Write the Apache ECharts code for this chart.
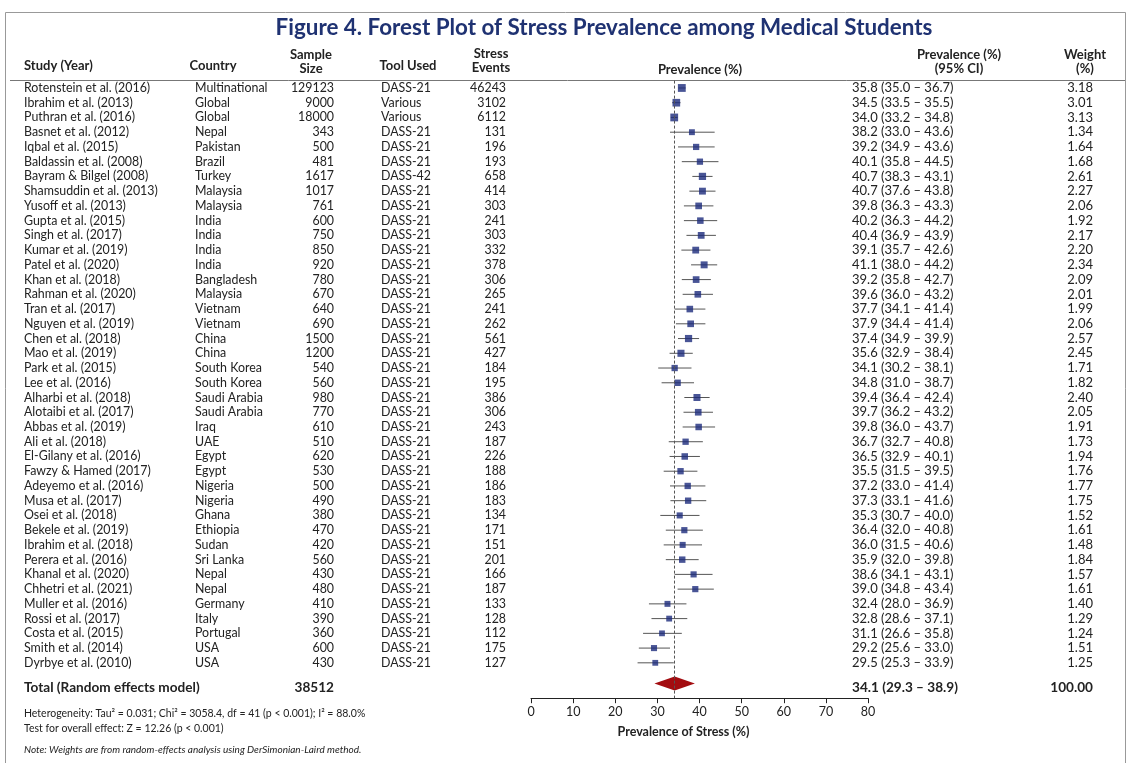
<!DOCTYPE html>
<html>
<head>
<meta charset="utf-8">
<script src="https://cdn.jsdelivr.net/npm/echarts@6/dist/echarts.min.js"></script>
<style>
  html, body { margin: 0; padding: 0; background: #fff; }
  #chart { width: 1130px; height: 763px; }
</style>
</head>
<body>
<div id="chart"></div>
<script>
// Study-level data for the forest plot
const studies = [
  'Rotenstein et al. (2016)', 'Ibrahim et al. (2013)', 'Puthran et al. (2016)', 'Basnet et al. (2012)',
  'Iqbal et al. (2015)', 'Baldassin et al. (2008)', 'Bayram & Bilgel (2008)', 'Shamsuddin et al. (2013)',
  'Yusoff et al. (2013)', 'Gupta et al. (2015)', 'Singh et al. (2017)', 'Kumar et al. (2019)',
  'Patel et al. (2020)', 'Khan et al. (2018)', 'Rahman et al. (2020)', 'Tran et al. (2017)',
  'Nguyen et al. (2019)', 'Chen et al. (2018)', 'Mao et al. (2019)', 'Park et al. (2015)',
  'Lee et al. (2016)', 'Alharbi et al. (2018)', 'Alotaibi et al. (2017)', 'Abbas et al. (2019)',
  'Ali et al. (2018)', 'El-Gilany et al. (2016)', 'Fawzy & Hamed (2017)', 'Adeyemo et al. (2016)',
  'Musa et al. (2017)', 'Osei et al. (2018)', 'Bekele et al. (2019)', 'Ibrahim et al. (2018)',
  'Perera et al. (2016)', 'Khanal et al. (2020)', 'Chhetri et al. (2021)', 'Muller et al. (2016)',
  'Rossi et al. (2017)', 'Costa et al. (2015)', 'Smith et al. (2014)', 'Dyrbye et al. (2010)'
];
const countries = [
  'Multinational', 'Global', 'Global', 'Nepal', 'Pakistan', 'Brazil', 'Turkey', 'Malaysia',
  'Malaysia', 'India', 'India', 'India', 'India', 'Bangladesh', 'Malaysia', 'Vietnam',
  'Vietnam', 'China', 'China', 'South Korea', 'South Korea', 'Saudi Arabia', 'Saudi Arabia', 'Iraq',
  'UAE', 'Egypt', 'Egypt', 'Nigeria', 'Nigeria', 'Ghana', 'Ethiopia', 'Sudan',
  'Sri Lanka', 'Nepal', 'Nepal', 'Germany', 'Italy', 'Portugal', 'USA', 'USA'
];
const sampleSizes = [
  129123, 9000, 18000, 343, 500, 481, 1617, 1017, 761, 600, 750, 850, 920, 780, 670, 640,
  690, 1500, 1200, 540, 560, 980, 770, 610, 510, 620, 530, 500, 490, 380, 470, 420,
  560, 430, 480, 410, 390, 360, 600, 430
];
const tools = [
  'DASS-21', 'Various', 'Various', 'DASS-21', 'DASS-21', 'DASS-21', 'DASS-42', 'DASS-21',
  'DASS-21', 'DASS-21', 'DASS-21', 'DASS-21', 'DASS-21', 'DASS-21', 'DASS-21', 'DASS-21',
  'DASS-21', 'DASS-21', 'DASS-21', 'DASS-21', 'DASS-21', 'DASS-21', 'DASS-21', 'DASS-21',
  'DASS-21', 'DASS-21', 'DASS-21', 'DASS-21', 'DASS-21', 'DASS-21', 'DASS-21', 'DASS-21',
  'DASS-21', 'DASS-21', 'DASS-21', 'DASS-21', 'DASS-21', 'DASS-21', 'DASS-21', 'DASS-21'
];
const stressEvents = [
  46243, 3102, 6112, 131, 196, 193, 658, 414, 303, 241, 303, 332, 378, 306, 265, 241,
  262, 561, 427, 184, 195, 386, 306, 243, 187, 226, 188, 186, 183, 134, 171, 151,
  201, 166, 187, 133, 128, 112, 175, 127
];
const prevalence = [
  35.8, 34.5, 34.0, 38.2, 39.2, 40.1, 40.7, 40.7, 39.8, 40.2, 40.4, 39.1, 41.1, 39.2, 39.6, 37.7,
  37.9, 37.4, 35.6, 34.1, 34.8, 39.4, 39.7, 39.8, 36.7, 36.5, 35.5, 37.2, 37.3, 35.3, 36.4, 36.0,
  35.9, 38.6, 39.0, 32.4, 32.8, 31.1, 29.2, 29.5
];
const ciLower = [
  35.0, 33.5, 33.2, 33.0, 34.9, 35.8, 38.3, 37.6, 36.3, 36.3, 36.9, 35.7, 38.0, 35.8, 36.0, 34.1,
  34.4, 34.9, 32.9, 30.2, 31.0, 36.4, 36.2, 36.0, 32.7, 32.9, 31.5, 33.0, 33.1, 30.7, 32.0, 31.5,
  32.0, 34.1, 34.8, 28.0, 28.6, 26.6, 25.6, 25.3
];
const ciUpper = [
  36.7, 35.5, 34.8, 43.6, 43.6, 44.5, 43.1, 43.8, 43.3, 44.2, 43.9, 42.6, 44.2, 42.7, 43.2, 41.4,
  41.4, 39.9, 38.4, 38.1, 38.7, 42.4, 43.2, 43.7, 40.8, 40.1, 39.5, 41.4, 41.6, 40.0, 40.8, 40.6,
  39.8, 43.1, 43.4, 36.9, 37.1, 35.8, 33.0, 33.9
];
const weights = [
  3.18, 3.01, 3.13, 1.34, 1.64, 1.68, 2.61, 2.27, 2.06, 1.92, 2.17, 2.20, 2.34, 2.09, 2.01, 1.99,
  2.06, 2.57, 2.45, 1.71, 1.82, 2.40, 2.05, 1.91, 1.73, 1.94, 1.76, 1.77, 1.75, 1.52, 1.61, 1.48,
  1.84, 1.57, 1.61, 1.40, 1.29, 1.24, 1.51, 1.25
];

// Pooled random-effects estimate
const pooledEstimate = 34.1;
const pooledLower = 29.3;
const pooledUpper = 38.9;
const totalEvents = 38512;
const totalWeight = 100.00;

const axisTicks = [0, 10, 20, 30, 40, 50, 60, 70, 80];

const FONT = 'Lato, "Open Sans", sans-serif';
const TEXT = '#222';
const NAVY = '#1f3272';
const MARKER = '#1b2b7c';
const DIAMOND = '#a30c10';

const nRows = studies.length;
const totalRowPos = nRows + 0.7;
const diamondPos = nRows + 0.4;

const fmt1 = v => v.toFixed(1);
const ciText = (e, l, h) => `${fmt1(e)} (${fmt1(l)} – ${fmt1(h)})`;

// Column anchors for the table text
const COL = {
  study: 24, country: 195, sample: 334, tool: 381, events: 506, ci: 852, weight: 1093
};

function txt(x, y, text, opts) {
  return {
    type: 'text',
    x: x, y: y,
    style: Object.assign({
      text: String(text),
      fill: TEXT,
      fontFamily: FONT,
      fontSize: 12.4,
      align: 'left',
      verticalAlign: 'middle'
    }, opts || {})
  };
}

const HEAD = { fontWeight: 'bold', fontSize: 13, align: 'center' };

const tableData = studies.map((s, i) => [i]);

const chart = echarts.init(document.getElementById('chart'));

chart.setOption({
  animation: false,
  backgroundColor: '#fff',
  grid: { left: 531, width: 337, top: 80.6, height: 617.6 },
  xAxis: {
    type: 'value',
    min: axisTicks[0],
    max: axisTicks[axisTicks.length - 1],
    interval: 10,
    axisLine: { show: true, onZero: false, lineStyle: { color: '#222', width: 1 } },
    axisTick: { show: true, length: 5, lineStyle: { color: '#222' } },
    axisLabel: { color: TEXT, fontFamily: FONT, fontSize: 12.5, margin: 7 },
    splitLine: { show: false },
    name: 'Prevalence of Stress (%)',
    nameLocation: 'middle',
    nameGap: 27,
    nameTextStyle: { color: TEXT, fontFamily: FONT, fontSize: 12.5, fontWeight: 'bold', padding: [0, 32, 0, 0] }
  },
  yAxis: {
    type: 'value',
    inverse: true,
    min: -0.5,
    max: nRows + 1.4,
    show: false
  },
  graphic: [
    { type: 'rect', shape: { x: 5.5, y: 12.5, width: 1120, height: 780 }, style: { fill: 'none', stroke: '#999', lineWidth: 1 }, silent: true },
    txt(604, 28, 'Figure 4. Forest Plot of Stress Prevalence among Medical Students',
      { fontSize: 22.4, fontWeight: 'bold', fill: NAVY, align: 'center' }),
    txt(24, 66, 'Study (Year)', Object.assign({}, HEAD, { align: 'left' })),
    txt(213, 66, 'Country', HEAD),
    txt(311, 55, 'Sample', HEAD),
    txt(311, 69, 'Size', HEAD),
    txt(408, 66, 'Tool Used', HEAD),
    txt(491, 54, 'Stress', HEAD),
    txt(491, 68, 'Events', HEAD),
    txt(700, 70, 'Prevalence (%)', HEAD),
    txt(959, 55, 'Prevalence (%)', HEAD),
    txt(959, 69, '(95% CI)', HEAD),
    txt(1085, 55, 'Weight', HEAD),
    txt(1085, 69, '(%)', HEAD),
    { type: 'line', shape: { x1: 10, y1: 80.5, x2: 1125, y2: 80.5 }, style: { stroke: '#777', lineWidth: 1 }, silent: true },
    txt(24, 714, 'Heterogeneity: Tau² = 0.031; Chi² = 3058.4, df = 41 (p < 0.001); I² = 88.0%', { fontSize: 10.5 }),
    txt(24, 729, 'Test for overall effect: Z = 12.26 (p < 0.001)', { fontSize: 10.5 }),
    txt(24, 750, 'Note: Weights are from random-effects analysis using DerSimonian-Laird method.', { fontSize: 10, fontStyle: 'italic' })
  ],
  series: [
    {
      // table rows: study, country, sample size, tool, events, CI text, weight
      type: 'custom',
      clip: false,
      silent: true,
      data: tableData,
      encode: { x: -1, y: 0 },
      renderItem: function (params, api) {
        const i = api.value(0);
        const y = api.coord([0, i])[1];
        return {
          type: 'group',
          children: [
            txt(COL.study, y, studies[i]),
            txt(COL.country, y, countries[i]),
            txt(COL.sample, y, sampleSizes[i], { align: 'right' }),
            txt(COL.tool, y, tools[i]),
            txt(COL.events, y, stressEvents[i], { align: 'right' }),
            txt(COL.ci, y, ciText(prevalence[i], ciLower[i], ciUpper[i]), { fontSize: 13 }),
            txt(COL.weight, y, weights[i].toFixed(2), { align: 'right', fontSize: 13 })
          ]
        };
      }
    },
    {
      // pooled total row text
      type: 'custom',
      clip: false,
      silent: true,
      data: [[totalRowPos]],
      encode: { x: -1, y: 0 },
      renderItem: function (params, api) {
        const y = api.coord([0, api.value(0)])[1];
        const b = { fontWeight: 'bold', fontSize: 13.6 };
        return {
          type: 'group',
          children: [
            txt(COL.study, y, 'Total (Random effects model)', b),
            txt(COL.sample, y, totalEvents, Object.assign({ align: 'right' }, b)),
            txt(COL.ci, y, ciText(pooledEstimate, pooledLower, pooledUpper), b),
            txt(COL.weight, y, totalWeight.toFixed(2), Object.assign({ align: 'right' }, b))
          ]
        };
      }
    },
    {
      // confidence interval whiskers
      type: 'custom',
      clip: false,
      silent: true,
      data: studies.map((s, i) => [ciLower[i], ciUpper[i], i]),
      encode: { x: [0, 1], y: 2 },
      renderItem: function (params, api) {
        const p1 = api.coord([api.value(0), api.value(2)]);
        const p2 = api.coord([api.value(1), api.value(2)]);
        return {
          type: 'line',
          shape: { x1: p1[0], y1: p1[1], x2: p2[0], y2: p2[1] },
          style: { stroke: '#555', lineWidth: 1 }
        };
      }
    },
    {
      // study point estimates, box size by weight
      type: 'scatter',
      silent: true,
      symbol: 'rect',
      symbolSize: v => 4.5 + v[2] * 1.05,
      itemStyle: { color: MARKER },
      data: studies.map((s, i) => [prevalence[i], i, weights[i]]),
      markLine: {
        silent: true,
        symbol: 'none',
        label: { show: false },
        lineStyle: { type: [3, 2], color: '#555', width: 1 },
        data: [{ xAxis: pooledEstimate }]
      }
    },
    {
      // pooled estimate diamond
      type: 'custom',
      clip: false,
      silent: true,
      data: [[pooledLower, pooledEstimate, pooledUpper, diamondPos]],
      encode: { x: [0, 2], y: 3 },
      renderItem: function (params, api) {
        const yv = api.value(3);
        const h = 0.48;
        const pts = [
          api.coord([api.value(0), yv]),
          api.coord([api.value(1), yv - h]),
          api.coord([api.value(2), yv]),
          api.coord([api.value(1), yv + h])
        ];
        return {
          type: 'polygon',
          shape: { points: pts },
          style: { fill: DIAMOND }
        };
      }
    }
  ]
});
</script>
</body>
</html>
